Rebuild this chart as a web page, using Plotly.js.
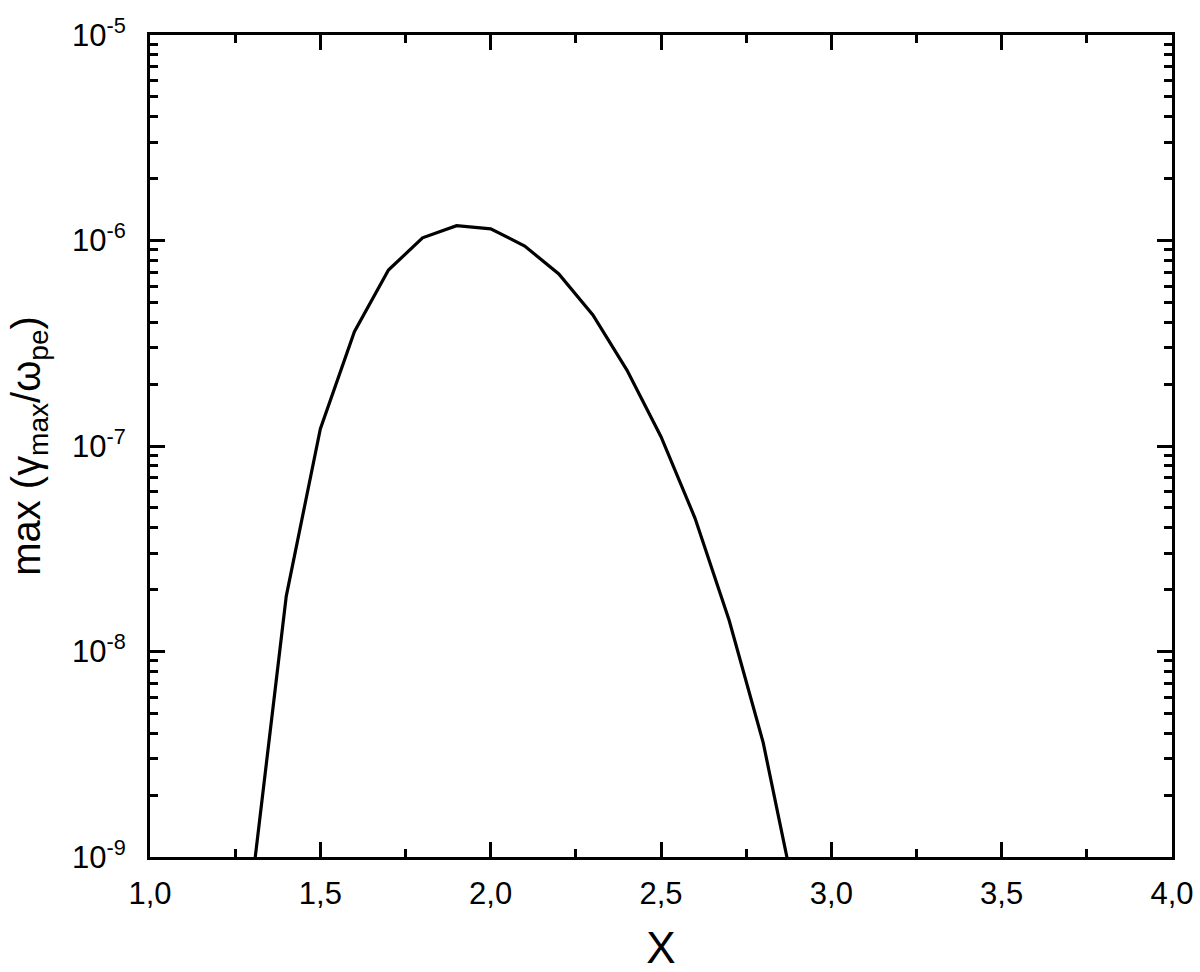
<!DOCTYPE html>
<html>
<head>
<meta charset="utf-8">
<script src="https://cdn.plot.ly/plotly-3.0.1.min.js"></script>
<style>
  html, body { margin: 0; padding: 0; background: #fff; }
  #grafica { width: 1200px; height: 972px; }
</style>
</head>
<body>
<div id="grafica"></div>
<script>
// valores
const xValores = [1.3, 1.4, 1.5, 1.6, 1.7, 1.8, 1.9, 2.0, 2.1, 2.2, 2.3, 2.4, 2.5, 2.6, 2.7, 2.8, 2.9];
const gammaMax = [7.5e-10, 1.86e-8, 1.21e-7, 3.6e-7, 7.18e-7, 1.03e-6, 1.18e-6, 1.14e-6, 9.4e-7,
                  6.87e-7, 4.34e-7, 2.34e-7, 1.11e-7, 4.45e-8, 1.42e-8, 3.6e-9, 5.7e-10];

const yTicks = [1e-9, 1e-8, 1e-7, 1e-6, 1e-5];
const yTickText = ["10<sup>-9</sup>", "10<sup>-8</sup>", "10<sup>-7</sup>", "10<sup>-6</sup>", "10<sup>-5</sup>"];

// ticks menores 2..9 de cada década
let yMenores = [];
for (let e = -9; e < -5; e++) {
    for (let m = 2; m <= 9; m++) yMenores.push(m * Math.pow(10, e));
}

const fuente = "Liberation Sans, Arial, sans-serif";

Plotly.newPlot("grafica", [
    {
        x: xValores, y: gammaMax, type: "scatter", mode: "lines",
        line: { color: "#000", width: 3.2 }, showlegend: false
    }
], {
    width: 1200, height: 972,
    margin: { l: 150, r: 28, t: 35, b: 115 },
    paper_bgcolor: "#fff", plot_bgcolor: "#fff",
    separators: ",.",
    font: { family: fuente, color: "#000", size: 31 },
    xaxis: {
        range: [1, 4], dtick: 0.5, tick0: 1, tickformat: ".1f",
        showline: true, linewidth: 3, linecolor: "#000", mirror: "ticks",
        ticks: "inside", ticklen: 15, tickwidth: 3, tickcolor: "#000",
        minor: { dtick: 0.25, tick0: 1, ticks: "inside", ticklen: 8, tickwidth: 3, tickcolor: "#000" },
        showgrid: false, zeroline: false,
        tickfont: { size: 31 },
        ticklabelstandoff: 7,
        title: { text: "X", font: { size: 44 }, standoff: 34 }
    },
    yaxis: {
        type: "log", range: [-9, -5],
        tickmode: "array", tickvals: yTicks, ticktext: yTickText,
        showline: true, linewidth: 3, linecolor: "#000", mirror: "ticks",
        ticks: "inside", ticklen: 15, tickwidth: 3, tickcolor: "#000",
        minor: { tickmode: "array", tickvals: yMenores, ticks: "inside", ticklen: 8, tickwidth: 3, tickcolor: "#000" },
        showgrid: false, zeroline: false,
        tickfont: { size: 31 },
        ticklabelstandoff: 15,
        title: { text: "max (γ<sub>max</sub>/ω<sub>pe</sub>)", font: { size: 40 }, standoff: 20 }
    }
}, { displayModeBar: false });
</script>
</body>
</html>
